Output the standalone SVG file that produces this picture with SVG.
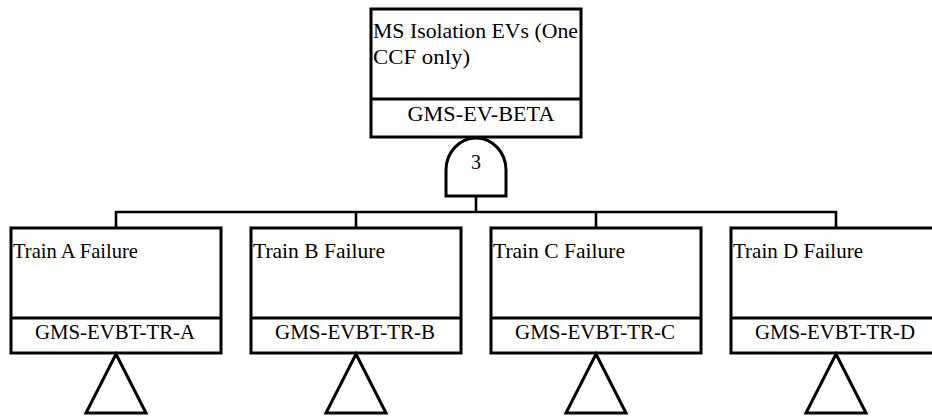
<svg xmlns="http://www.w3.org/2000/svg" width="932" height="416" viewBox="0 0 932 416">
  <style>
    .box { fill: #ffffff; stroke: #000000; stroke-width: 3; }
    .ln { fill: none; stroke: #000000; stroke-width: 2.6; }
    .div { stroke: #000000; stroke-width: 3; }
    .sym { fill: #ffffff; stroke: #000000; stroke-width: 3; stroke-linejoin: miter; }
    .t { font-family: "Liberation Serif", "Times New Roman", serif; font-size: 22px; fill: #000000; }
    .id { font-family: "Liberation Serif", "Times New Roman", serif; font-size: 22px; fill: #000000; text-anchor: middle; }
    .g { font-family: "Liberation Serif", "Times New Roman", serif; font-size: 20px; fill: #000000; text-anchor: middle; }
  </style>
  <rect width="932" height="416" fill="#ffffff"/>

  <!-- connectors: gate output down to the bus, bus out to each train -->
  <g id="connectors">
    <path class="ln" d="M476,196 V212"/>
    <path class="ln" d="M116,228 V212 H836 V228"/>
    <path class="ln" d="M356,212 V228"/>
    <path class="ln" d="M596,212 V228"/>
  </g>

  <!-- top event -->
  <g id="top-event">
    <rect class="box" x="371" y="9" width="210" height="128"/>
    <line class="div" x1="371" y1="99" x2="581" y2="99"/>
    <text class="t" x="373" y="38" textLength="205" lengthAdjust="spacingAndGlyphs">MS Isolation EVs (One</text>
    <text class="t" x="373" y="64" textLength="97" lengthAdjust="spacingAndGlyphs">CCF only)</text>
    <text class="id" x="481" y="121" textLength="147" lengthAdjust="spacingAndGlyphs">GMS-EV-BETA</text>
  </g>

  <!-- 3-out-of-N voting gate -->
  <g id="gate">
    <path class="sym" d="M446,196 V170 A30,32 0 0 1 506,170 V196 Z"/>
    <text class="g" x="476" y="169">3</text>
  </g>

  <!-- train events -->
  <g id="train-a">
    <rect class="box" x="11" y="228" width="210" height="125"/>
    <line class="div" x1="11" y1="318" x2="221" y2="318"/>
    <text class="t" x="13" y="258" textLength="125" lengthAdjust="spacingAndGlyphs">Train A Failure</text>
    <text class="id" x="115" y="339" textLength="160" lengthAdjust="spacingAndGlyphs">GMS-EVBT-TR-A</text>
    <path class="sym" d="M116,354 L146,413 H86 Z"/>
  </g>

  <g id="train-b">
    <rect class="box" x="251" y="228" width="210" height="125"/>
    <line class="div" x1="251" y1="318" x2="461" y2="318"/>
    <text class="t" x="253" y="258" textLength="132" lengthAdjust="spacingAndGlyphs">Train B Failure</text>
    <text class="id" x="355" y="339" textLength="160" lengthAdjust="spacingAndGlyphs">GMS-EVBT-TR-B</text>
    <path class="sym" d="M356,354 L386,413 H326 Z"/>
  </g>

  <g id="train-c">
    <rect class="box" x="491" y="228" width="210" height="125"/>
    <line class="div" x1="491" y1="318" x2="701" y2="318"/>
    <text class="t" x="493" y="258" textLength="132" lengthAdjust="spacingAndGlyphs">Train C Failure</text>
    <text class="id" x="595" y="339" textLength="160" lengthAdjust="spacingAndGlyphs">GMS-EVBT-TR-C</text>
    <path class="sym" d="M596,354 L626,413 H566 Z"/>
  </g>

  <g id="train-d">
    <rect class="box" x="731" y="228" width="210" height="125"/>
    <line class="div" x1="731" y1="318" x2="941" y2="318"/>
    <text class="t" x="733" y="258" textLength="130" lengthAdjust="spacingAndGlyphs">Train D Failure</text>
    <text class="id" x="835" y="339" textLength="160" lengthAdjust="spacingAndGlyphs">GMS-EVBT-TR-D</text>
    <path class="sym" d="M836,354 L866,413 H806 Z"/>
  </g>
</svg>
